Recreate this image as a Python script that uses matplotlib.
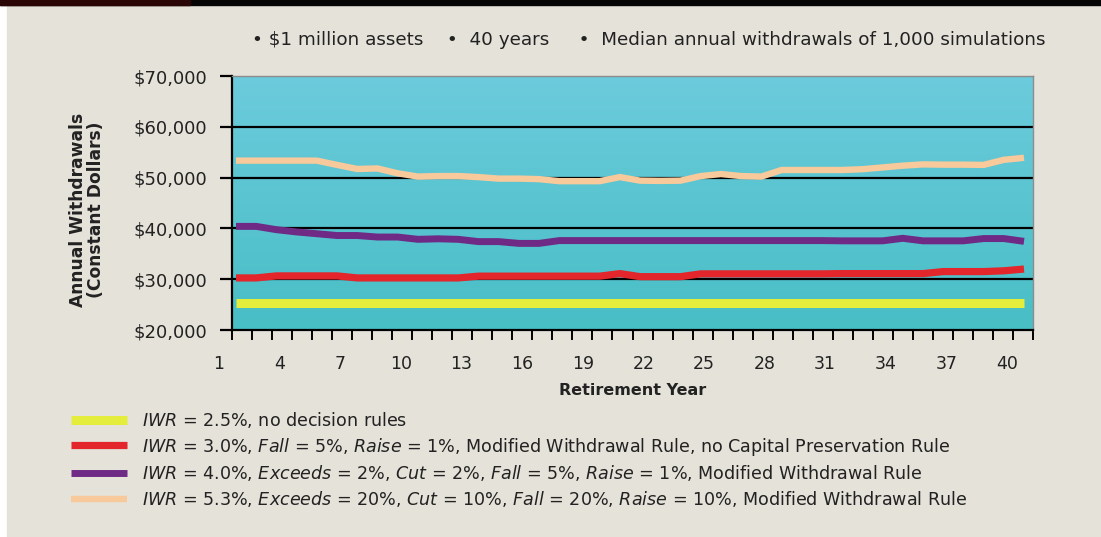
import numpy as np
import matplotlib
matplotlib.use('Agg')
import matplotlib.pyplot as plt
from matplotlib.patches import Rectangle
from matplotlib.transforms import ScaledTranslation

# data (median annual withdrawals, constant dollars)
years = list(range(1, 41))
iwr25 = [25300, 25300, 25300, 25300, 25300, 25300, 25300, 25300, 25300, 25300,
         25300, 25300, 25300, 25300, 25300, 25300, 25300, 25300, 25300, 25300,
         25300, 25300, 25300, 25300, 25300, 25300, 25300, 25300, 25300, 25300,
         25300, 25300, 25300, 25300, 25300, 25300, 25300, 25300, 25300, 25300]
iwr30 = [30250, 30250, 30650, 30650, 30650, 30650, 30250, 30250, 30250, 30250,
         30250, 30250, 30600, 30600, 30600, 30600, 30600, 30600, 30600, 31100,
         30500, 30500, 30500, 31050, 31050, 31050, 31050, 31050, 31050, 31050,
         31100, 31100, 31100, 31100, 31100, 31500, 31500, 31500, 31650, 32000]
iwr40 = [40400, 40400, 39750, 39300, 38950, 38600, 38600, 38300, 38300, 37850,
         37950, 37850, 37400, 37400, 37050, 37050, 37600, 37600, 37600, 37600,
         37600, 37600, 37600, 37600, 37600, 37600, 37600, 37600, 37600, 37600,
         37550, 37550, 37550, 38050, 37550, 37550, 37550, 38000, 38000, 37450]
iwr53 = [53340, 53340, 53340, 53340, 53340, 52500, 51700, 51800, 50850, 50200,
         50300, 50300, 50100, 49800, 49800, 49700, 49300, 49300, 49300, 50100,
         49400, 49350, 49400, 50300, 50700, 50300, 50200, 51500, 51500, 51500,
         51500, 51650, 52000, 52350, 52600, 52550, 52550, 52500, 53500, 53900]

labels = [r'$\mathit{IWR}$ = 2.5%, no decision rules',
          r'$\mathit{IWR}$ = 3.0%, $\mathit{Fall}$ = 5%, $\mathit{Raise}$ = 1%, Modified Withdrawal Rule, no Capital Preservation Rule',
          r'$\mathit{IWR}$ = 4.0%, $\mathit{Exceeds}$ = 2%, $\mathit{Cut}$ = 2%, $\mathit{Fall}$ = 5%, $\mathit{Raise}$ = 1%, Modified Withdrawal Rule',
          r'$\mathit{IWR}$ = 5.3%, $\mathit{Exceeds}$ = 20%, $\mathit{Cut}$ = 10%, $\mathit{Fall}$ = 20%, $\mathit{Raise}$ = 10%, Modified Withdrawal Rule']
yticks = [20000, 30000, 40000, 50000, 60000, 70000]
xlabel_years = [1, 4, 7, 10, 13, 16, 19, 22, 25, 28, 31, 34, 37, 40]

plt.rcParams['font.family'] = 'DejaVu Sans'
plt.rcParams['mathtext.fontset'] = 'custom'
plt.rcParams['mathtext.rm'] = 'DejaVu Sans'
plt.rcParams['mathtext.it'] = 'DejaVu Sans:italic'

beige = '#e5e2d9'
txt = '#222222'

fig = plt.figure(figsize=(11.01, 5.37), dpi=100)
fig.patch.set_facecolor('white')
# page panel, black band on top
fig.patches.append(Rectangle((7/1101., 0), 1., 1 - 5/537., transform=fig.transFigure, color=beige, zorder=-10))
fig.patches.append(Rectangle((0, 1 - 5/537.), 1., 5/537., transform=fig.transFigure, color='#050505', zorder=-9))
fig.patches.append(Rectangle((0, 1 - 5/537.), 190/1101., 5/537., transform=fig.transFigure, color='#2a0606', zorder=-8))

ax = fig.add_axes([232/1101., 1 - 330/537., 801/1101., 254/537.])
xlo, xhi = 0.802, 40.445
ylo, yhi = 20000, 70000

# gradient background
grad = np.linspace(0, 1, 256).reshape(-1, 1)
top = np.array([108, 203, 220]) / 255.
bot = np.array([72, 190, 197]) / 255.
img = top[None, None, :] * (1 - grad[:, :, None]) + bot[None, None, :] * grad[:, :, None]
ax.imshow(img, extent=[xlo, xhi, ylo, yhi], aspect='auto', origin='upper', zorder=0)

for yv in [30000, 40000, 50000, 60000]:
	ax.axhline(yv, color='black', linewidth=1.6, zorder=1)

ax.plot(years, iwr25, color='#e4ec3c', linewidth=6.5, solid_capstyle='butt', zorder=3, label=labels[0])
ax.plot(years, iwr30, color='#e2262b', linewidth=5.2, solid_capstyle='butt', zorder=3, label=labels[1])
ax.plot(years, iwr40, color='#6f2a86', linewidth=5.0, solid_capstyle='butt', zorder=3, label=labels[2])
ax.plot(years, iwr53, color='#f8c99b', linewidth=4.6, solid_capstyle='butt', zorder=3, label=labels[3])

ax.set_xlim(xlo, xhi)
ax.set_ylim(ylo, yhi)

for s in ['top', 'right']:
	ax.spines[s].set_color('#8c8c8c')
	ax.spines[s].set_linewidth(1.0)
for s in ['left', 'bottom']:
	ax.spines[s].set_color('black')
	ax.spines[s].set_linewidth(1.6)

ax.set_yticks(yticks)
ax.set_yticklabels(['\\$%s' % format(v, ',') for v in yticks])
ax.tick_params(axis='y', direction='out', length=9, width=1.6, pad=9, labelsize=13, labelcolor=txt)

ax.set_xticks(np.linspace(xlo, xhi, 41), minor=True)
ax.set_xticks(xlabel_years)
ax.set_xticklabels([str(v) for v in xlabel_years])
ax.tick_params(axis='x', which='minor', direction='out', length=7, width=1.4)
ax.tick_params(axis='x', which='major', length=0, pad=18, labelsize=12.5, labelcolor=txt)
offset = ScaledTranslation(-17/100., 0, fig.dpi_scale_trans)
for lab in ax.get_xticklabels():
	lab.set_transform(lab.get_transform() + offset)

ax.set_xlabel('Retirement Year', fontsize=11.5, fontweight='bold', color=txt, labelpad=7)
fig.text(87/1101., 1 - 210/537., 'Annual Withdrawals\n(Constant Dollars)', rotation=90,
	ha='center', va='center', fontsize=12.3, fontweight='bold', color=txt, linespacing=0.95)

fig.text(252/1101., 1 - 40/537., '\u2022 \\$1 million assets    \u2022  40 years     \u2022  Median annual withdrawals of 1,000 simulations',
	ha='left', va='center', fontsize=13.2, color=txt)

fig.legend(loc='upper left', bbox_to_anchor=(71/1101., 1 - 410/537.), frameon=False,
	borderpad=0, borderaxespad=0, handlelength=3.2, handletextpad=0.85, labelspacing=0.32,
	prop={'size': 12.6}, labelcolor=txt)

plt.savefig('out.png', dpi=100, facecolor=fig.get_facecolor())
